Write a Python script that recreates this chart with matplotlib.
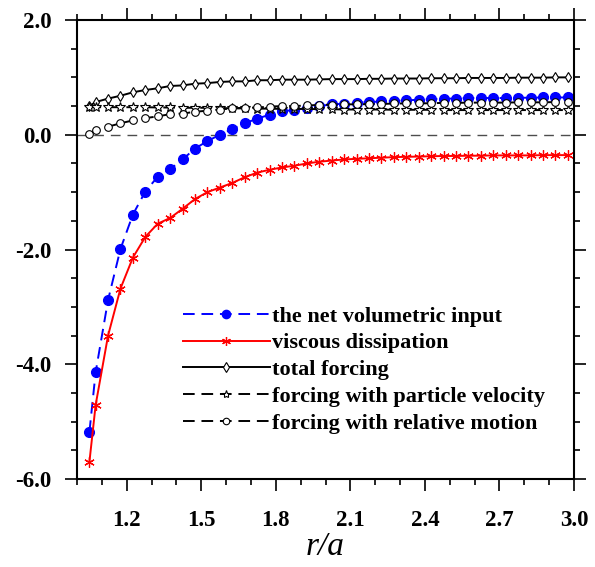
import matplotlib
matplotlib.use("Agg")
import matplotlib.pyplot as plt
from matplotlib.ticker import MultipleLocator, FormatStrFormatter

plt.rcParams["font.family"] = "Liberation Serif"
plt.rcParams["font.weight"] = "bold"
plt.rcParams["xtick.direction"] = "out"
plt.rcParams["ytick.direction"] = "out"

# radial positions r/a
r_a = [1.05, 1.075, 1.125, 1.175, 1.225, 1.275, 1.325, 1.375, 1.425, 1.475,
       1.525, 1.575, 1.625, 1.675, 1.725, 1.775, 1.825, 1.875, 1.925, 1.975,
       2.025, 2.075, 2.125, 2.175, 2.225, 2.275, 2.325, 2.375, 2.425, 2.475,
       2.525, 2.575, 2.625, 2.675, 2.725, 2.775, 2.825, 2.875, 2.925, 2.975]

net_input = [-5.18, -4.14, -2.88, -1.99, -1.39, -0.99, -0.73, -0.60, -0.43, -0.24,
             -0.11, 0.00, 0.10, 0.20, 0.28, 0.35, 0.41, 0.43, 0.47, 0.50,
             0.53, 0.54, 0.56, 0.57, 0.58, 0.59, 0.60, 0.61, 0.62, 0.63,
             0.63, 0.64, 0.64, 0.64, 0.64, 0.645, 0.645, 0.65, 0.65, 0.65]

viscous = [-5.70, -4.71, -3.50, -2.68, -2.14, -1.78, -1.55, -1.45, -1.29, -1.12,
           -1.00, -0.92, -0.84, -0.74, -0.66, -0.61, -0.57, -0.54, -0.50, -0.47,
           -0.45, -0.43, -0.42, -0.41, -0.40, -0.39, -0.385, -0.38, -0.375, -0.37,
           -0.37, -0.365, -0.365, -0.36, -0.36, -0.36, -0.36, -0.355, -0.355, -0.355]

total_forcing = [0.50, 0.57, 0.63, 0.68, 0.74, 0.78, 0.81, 0.85, 0.86, 0.89,
                 0.90, 0.92, 0.93, 0.93, 0.95, 0.95, 0.96, 0.96, 0.96, 0.965,
                 0.97, 0.97, 0.97, 0.975, 0.975, 0.98, 0.98, 0.98, 0.985, 0.985,
                 0.985, 0.99, 0.99, 0.99, 0.99, 0.995, 0.995, 0.995, 1.0, 1.0]

forcing_particle = [0.48, 0.48, 0.48, 0.48, 0.48, 0.48, 0.475, 0.475, 0.47, 0.47,
                    0.47, 0.465, 0.46, 0.46, 0.455, 0.455, 0.45, 0.45, 0.45, 0.445,
                    0.445, 0.44, 0.44, 0.44, 0.44, 0.435, 0.435, 0.435, 0.435, 0.43,
                    0.43, 0.43, 0.43, 0.43, 0.43, 0.43, 0.43, 0.43, 0.43, 0.43]

forcing_relative = [0.01, 0.09, 0.14, 0.20, 0.25, 0.29, 0.32, 0.36, 0.37, 0.40,
                    0.42, 0.44, 0.46, 0.47, 0.475, 0.49, 0.50, 0.50, 0.51, 0.52,
                    0.525, 0.53, 0.53, 0.535, 0.535, 0.545, 0.545, 0.545, 0.55, 0.555,
                    0.555, 0.56, 0.56, 0.56, 0.56, 0.565, 0.565, 0.565, 0.57, 0.57]

fig = plt.figure(figsize=(5.95, 5.67), dpi=100)
ax = fig.add_axes([77 / 595, 1 - 479 / 567, 497 / 595, 459 / 567])

ax.axhline(0.0, color="0.3", lw=1.0, dashes=(7, 5))

ax.plot(r_a, net_input, color="blue", lw=1.4, dashes=(6, 3.5), marker="o",
        ms=7, mfc="blue", mec="blue", label="the net volumetric input")
ax.plot(r_a, viscous, color="red", lw=1.4, marker=(6, 2, 0), ms=7.5, mew=0.9,
        label="viscous dissipation")
ax.plot(r_a, total_forcing, color="black", lw=1.4, marker="d", ms=5.5,
        mfc="white", mec="black", mew=0.8, label="total forcing")
ax.plot(r_a, forcing_particle, color="black", lw=1.4, dashes=(6, 3.5), marker="*",
        ms=7, mfc="white", mec="black", mew=0.8,
        label="forcing with particle velocity")
ax.plot(r_a, forcing_relative, color="black", lw=1.4, dashes=(6, 3.5), marker="o",
        ms=5.5, mfc="white", mec="black", mew=0.8,
        label="forcing with relative motion")

ax.set_xlim(1.0, 3.0)
ax.set_ylim(-6.0, 2.0)
ax.set_xticks([1.2, 1.5, 1.8, 2.1, 2.4, 2.7, 3.0])
ax.xaxis.set_minor_locator(MultipleLocator(0.1))
ax.yaxis.set_major_locator(MultipleLocator(2.0))
ax.yaxis.set_minor_locator(MultipleLocator(0.5))
ax.xaxis.set_major_formatter(FormatStrFormatter("%.1f"))
ax.yaxis.set_major_formatter(FormatStrFormatter("%.1f"))

ax.tick_params(which="both", top=True, right=True, width=1.2)
ax.tick_params(which="major", length=8.5, labelsize=16.5)
ax.tick_params(which="minor", length=4.5)
ax.tick_params(axis="x", which="major", pad=14)
ax.tick_params(axis="y", which="major", pad=10)
for s in ax.spines.values():
    s.set_linewidth(1.5)

ax.set_xlabel("r/a", fontsize=24, fontstyle="italic", fontweight="normal",
              labelpad=0)

ax.legend(loc="center left", bbox_to_anchor=(0.213, 0.2375), frameon=False,
          fontsize=16, numpoints=1, handlelength=3.9, handletextpad=0.1,
          labelspacing=0.28, borderpad=0, borderaxespad=0, markerscale=0.85)

fig.savefig("out.png", dpi=100)
